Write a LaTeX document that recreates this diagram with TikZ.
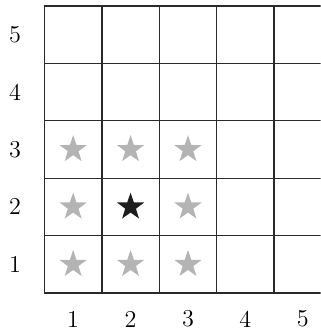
\documentclass[tikz,border=0pt]{standalone}
\usetikzlibrary{shapes.geometric}
\definecolor{gridcolor}{HTML}{2A2A2A}
\definecolor{stargray}{HTML}{B4B4B4}
\definecolor{starblack}{HTML}{1E1E1E}
\tikzset{
  gridline/.style={
    draw=gridcolor,
    line width=0.65pt,
  },
  axislabel/.style={
    font=\large,
    inner sep=0pt,
  },
  starmark/.style={
    star,
    star points=5,
    star point ratio=2.55,
    minimum size=0.5cm,
    inner sep=0pt,
    draw=none,
    fill=#1,
  },
  starmark/.default=stargray,
}

\begin{document}
\begin{tikzpicture}

% === Frame ===
\useasboundingbox (-0.774,-0.678) rectangle (4.809,5.104);
\clip (-0.774,-0.678) rectangle (4.809,5.104);

% === Grid ===
\draw[gridline] (0,0) grid (5,5);

% === Axis labels ===
\foreach \k in {1,...,5} {
  \node[axislabel] (row\k) at (-0.513,\k-0.5) {\k};
  \node[axislabel] (col\k) at (\k-0.5,-0.452) {\k};
}

% === Stars ===
\foreach \i in {1,2,3} {
  \foreach \j in {1,2,3} {
    \ifnum\i=2 \ifnum\j=2 \else
      \node[starmark] (star\i\j) at (\i-0.5,\j-0.5) {};
    \fi \else
      \node[starmark] (star\i\j) at (\i-0.5,\j-0.5) {};
    \fi
  }
}
\node[starmark=starblack] (star22) at (1.5,1.5) {};

\end{tikzpicture}
\end{document}
